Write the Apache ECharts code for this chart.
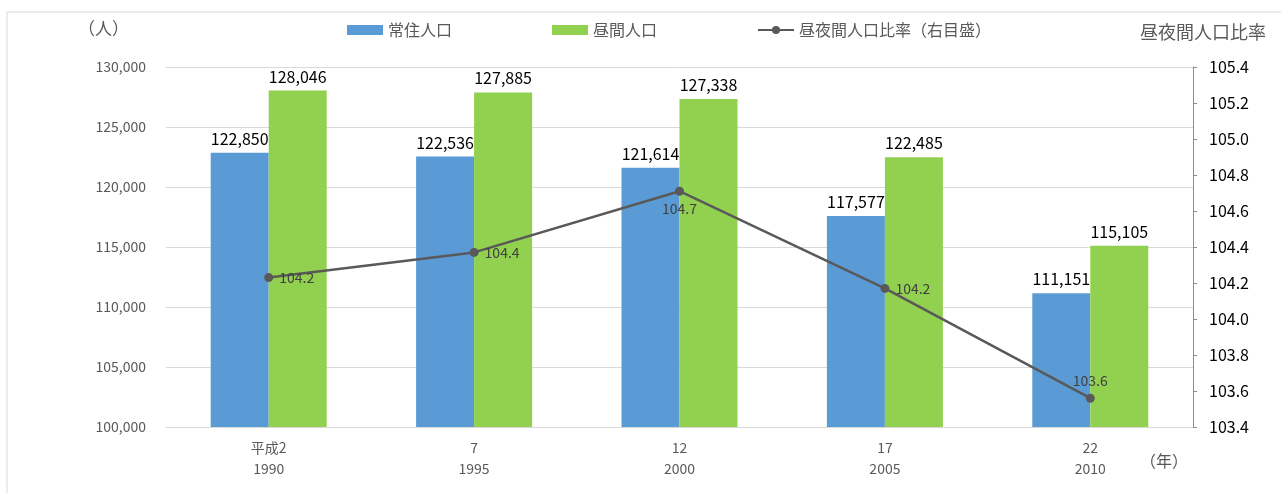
<!DOCTYPE html>
<html>
<head>
<meta charset="utf-8">
<script src="https://cdn.jsdelivr.net/npm/echarts@6/dist/echarts.min.js"></script>
<style>
  html, body { margin: 0; padding: 0; background: #fff; }
  #chart { width: 1281px; height: 493px; }
</style>
</head>
<body>
<div id="chart"></div>
<script>
const categories = ['平成2\n1990', '7\n1995', '12\n2000', '17\n2005', '22\n2010']
const residentPop = [122850, 122536, 121614, 117577, 111151]
const daytimePop = [128046, 127885, 127338, 122485, 115105]
const dayNightRatio = [104.23, 104.37, 104.71, 104.17, 103.56]
// label placement for the ratio line
const ratioLabelPos = ['right', 'right', 'bottom', 'right', 'top']

const font = "'Noto Sans CJK JP', sans-serif"
const grey = '#595959'

const chart = echarts.init(document.getElementById('chart'))

const option = {
  animation: false,
  textStyle: { fontFamily: font },
  graphic: [
    {
      type: 'rect',
      shape: { x: 7, y: 12, width: 1290, height: 500 },
      style: { fill: 'none', stroke: '#d9d9d9', lineWidth: 1 }
    },
    {
      type: 'text', left: 78, top: 20,
      style: { text: '（人）', fill: grey, font: '17px ' + font }
    },
    {
      type: 'text', left: 1140, top: 23,
      style: { text: '昼夜間人口比率', fill: grey, font: '18px ' + font }
    },
    {
      type: 'text', left: 1140, top: 453,
      style: { text: '（年）', fill: grey, font: '16px ' + font }
    }
  ],
  legend: {
    top: 17,
    left: 342,
    itemGap: 100,
    itemWidth: 36,
    itemHeight: 10,
    textStyle: { color: grey, fontSize: 16, fontFamily: font },
    data: [
      { name: '常住人口', icon: 'rect' },
      { name: '昼間人口', icon: 'rect' },
      { name: '昼夜間人口比率（右目盛）' }
    ]
  },
  grid: { left: 166, right: 88, top: 67, bottom: 66 },
  xAxis: {
    type: 'category',
    data: categories,
    axisTick: { show: false },
    axisLine: { lineStyle: { color: '#d9d9d9', width: 1 } },
    axisLabel: { color: grey, fontSize: 14, lineHeight: 21, margin: 10 }
  },
  yAxis: [
    {
      type: 'value',
      min: 100000, max: 130000, interval: 5000,
      axisLine: { show: false },
      axisTick: { show: false },
      splitLine: { lineStyle: { color: '#d9d9d9' } },
      axisLabel: {
        color: grey, fontSize: 14, margin: 20,
        formatter: v => v.toLocaleString('en-US')
      }
    },
    {
      type: 'value',
      min: 103.4, max: 105.4, interval: 0.2,
      position: 'right',
      axisLine: { show: true, lineStyle: { color: '#8c8c8c' } },
      axisTick: { show: true, inside: false, length: 4, lineStyle: { color: '#8c8c8c' } },
      splitLine: { show: false },
      axisLabel: {
        color: '#000', fontSize: 16, margin: 16,
        formatter: v => v.toFixed(1)
      }
    }
  ],
  series: [
    {
      name: '常住人口',
      type: 'bar',
      data: residentPop,
      barWidth: 58,
      barGap: '0%',
      itemStyle: { color: '#5b9bd5' },
      label: {
        show: true, position: 'top', color: '#000', fontSize: 16, distance: 6,
        formatter: p => p.value.toLocaleString('en-US')
      }
    },
    {
      name: '昼間人口',
      type: 'bar',
      data: daytimePop,
      barWidth: 58,
      itemStyle: { color: '#92d050' },
      label: {
        show: true, position: 'top', color: '#000', fontSize: 16, distance: 6,
        formatter: p => p.value.toLocaleString('en-US')
      }
    },
    {
      name: '昼夜間人口比率（右目盛）',
      type: 'line',
      yAxisIndex: 1,
      data: dayNightRatio.map((v, i) => ({
        value: v,
        label: { position: ratioLabelPos[i] }
      })),
      symbol: 'circle',
      symbolSize: 9,
      lineStyle: { color: '#595959', width: 2.5 },
      itemStyle: { color: '#595959' },
      label: {
        show: true, color: '#404040', fontSize: 14, distance: 6,
        formatter: p => p.value.toFixed(1)
      },
      z: 5
    }
  ]
}

chart.setOption(option)
</script>
</body>
</html>
